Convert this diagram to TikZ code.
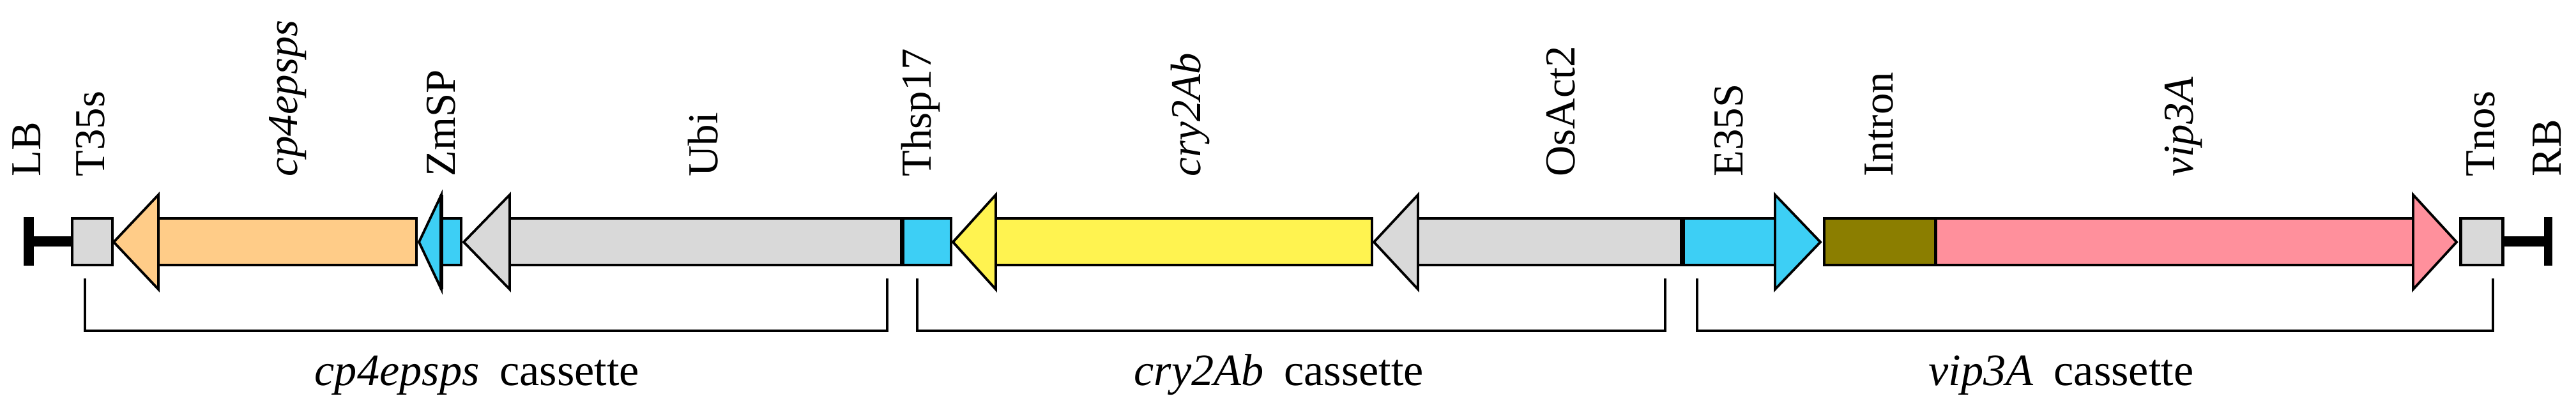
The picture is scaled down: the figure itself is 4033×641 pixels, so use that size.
\documentclass[tikz,border=0pt]{standalone}
\usepackage{fontspec}
\setmainfont{Liberation Serif}
\definecolor{cgray}{HTML}{D9D9D9}
\definecolor{corange}{HTML}{FFCC88}
\definecolor{cblue}{HTML}{3DCFF5}
\definecolor{cyellow}{HTML}{FFF350}
\definecolor{colive}{HTML}{8B7E00}
\definecolor{cpink}{HTML}{FF909C}
\begin{document}
\begin{tikzpicture}[x=0.01cm,y=-0.01cm,
  part/.style={draw=black,line width=1.4pt,line join=miter},
  head/.style={draw=black,line width=1.1pt,line join=miter},
  lab/.style={inner sep=0pt,font=\fontsize{19}{22}\selectfont,rotate=90,anchor=base west},
  cas/.style={inner sep=0pt,font=\fontsize{20}{24}\selectfont,anchor=base west},
  brk/.style={draw=black,line width=1pt},
  border/.style={fill=black,draw=none}]
\useasboundingbox (0,0) rectangle (4033,641);

% LB
\fill[border] (37,340) rectangle (53,416);
\fill[border] (53,370) rectangle (113,386);
% T35s
\filldraw[part,fill=cgray] (113,342) rectangle (176,415);
% cp4epsps
\filldraw[part,fill=corange] (248,342) rectangle (652,415);
\filldraw[head,fill=corange] (178,379) -- (248,305) -- (248,453) -- cycle;
% ZmSP
\filldraw[part,fill=cblue] (691,342) rectangle (722,415);
\filldraw[head,fill=cblue] (656,379) -- (691,305) -- (691,453) -- cycle;
\draw[line width=1.6pt] (691,305) -- (691,453);
% Ubi
\filldraw[part,fill=cgray] (798,342) rectangle (1411,415);
\filldraw[head,fill=cgray] (726,379) -- (798,305) -- (798,453) -- cycle;
% Thsp17
\filldraw[part,fill=cblue] (1414,342) rectangle (1489,415);
% cry2Ab
\filldraw[part,fill=cyellow] (1559,342) rectangle (2148,415);
\filldraw[head,fill=cyellow] (1492,379) -- (1559,305) -- (1559,453) -- cycle;
% OsAct2
\filldraw[part,fill=cgray] (2220,342) rectangle (2632,415);
\filldraw[head,fill=cgray] (2151,379) -- (2220,305) -- (2220,453) -- cycle;
% E35S
\filldraw[part,fill=cblue] (2636,342) rectangle (2779,415);
\filldraw[head,fill=cblue] (2850,379) -- (2779,305) -- (2779,453) -- cycle;
% Intron + vip3A
\filldraw[part,fill=colive] (2856,342) rectangle (3030,415);
\filldraw[part,fill=cpink] (3030,342) rectangle (3778,415);
\filldraw[head,fill=cpink] (3846,379) -- (3778,305) -- (3778,453) -- cycle;
% Tnos
\filldraw[part,fill=cgray] (3852,342) rectangle (3918,415);
% RB
\fill[border] (3920,370) rectangle (3983,386);
\fill[border] (3983,340) rectangle (3996,416);

% labels
\node[lab] (lLB) at (64,277) {LB};
\node[lab] (lT35s) at (163,277) {T35s};
\node[lab] (lcp4) at (465,277) {\textit{cp4epsps}};
\node[lab] (lZmSP) at (712,277) {ZmSP};
\node[lab] (lUbi) at (1123,277) {Ubi};
\node[lab] (lThsp) at (1457,277) {Thsp17};
\node[lab] (lcry) at (1879,277) {\textit{cry2Ab}};
\node[lab] (lOsAct) at (2465,277) {OsAct2};
\node[lab] (lE35S) at (2728,277) {E35S};
\node[lab] (lIntron) at (2963,277) {Intron};
\node[lab] (lvip) at (3433,277) {\textit{vip3A}};
\node[lab] (lTnos) at (3905,277) {Tnos};
\node[lab] (lRB) at (4009,277) {RB};

% brackets
\coordinate (b1s) at (133,436); \coordinate (b1e) at (1389,436);
\coordinate (b2s) at (1436,436); \coordinate (b2e) at (2607,436);
\coordinate (b3s) at (2657,436); \coordinate (b3e) at (3903,436);
\draw[brk] (b1s) -- ++(0,82) -| (b1e);
\draw[brk] (b2s) -- ++(0,82) -| (b2e);
\draw[brk] (b3s) -- ++(0,82) -| (b3e);

\node[cas] (c1) at (492,603) {\textit{cp4epsps}\hspace{0.45em}cassette};
\node[cas] (c2) at (1775,603) {\textit{cry2Ab}\hspace{0.45em}cassette};
\node[cas] (c3) at (3019,603) {\textit{vip3A}\hspace{0.45em}cassette};
\end{tikzpicture}
\end{document}
